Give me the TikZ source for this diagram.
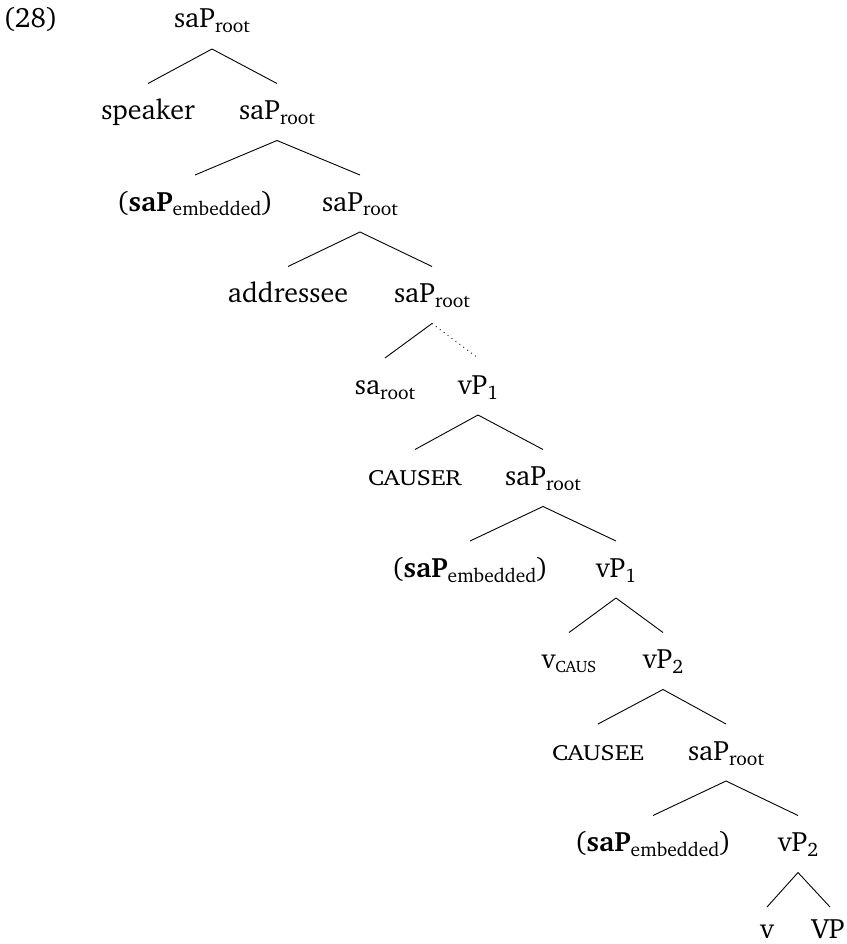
\documentclass[tikz,border=0pt]{standalone}
\usepackage[T1]{fontenc}
\usepackage{charter}
\newcommand\sub[1]{\raisebox{-5pt}{\fontsize{19.5}{22}\selectfont #1}}
\newcommand\rt{\sub{root}}
\newcommand\fsc[1]{\scalebox{1.15}[1]{\fontsize{22}{26}\selectfont #1}}
\newcommand\emb{(\textbf{saP}\sub{embedded})}
\newcommand\br[2]{\draw[branch] ([yshift=-21pt]#1.base) -- ([yshift=36pt]#2.base);}
\begin{document}
\begin{tikzpicture}[x=1pt,y=1pt,
  every node/.style={inner sep=0pt, font=\fontsize{28}{33}\selectfont, anchor=base},
  branch/.style={line width=0.9pt}]
\useasboundingbox (0,0) rectangle (846,-944);
\node (ex) at (30.5,-28) {(28)};
\node (n1) at (212,-28) {saP\rt};
\node (spk) at (148,-119.5) {speaker};
\node (n2) at (277,-119.5) {saP\rt};
\node (e1) at (195,-211) {\emb};
\node (n3) at (360,-211) {saP\rt};
\node (adr) at (288,-302.5) {addressee};
\node (n4) at (432,-302.5) {saP\rt};
\node (sar) at (385,-394) {sa\rt};
\node (v1a) at (478,-394) {vP\sub{1}};
\node (csr) at (415,-485.5) {\fsc{CAUSER}};
\node (n5) at (543,-485.5) {saP\rt};
\node (e2) at (470,-577) {\emb};
\node (v1b) at (616,-577) {vP\sub{1}};
\node (vc) at (569,-668.5) {v\raisebox{-3.5pt}{\fontsize{16.5}{18}\selectfont CAUS}};
\node (v2a) at (663,-668.5) {vP\sub{2}};
\node (cse) at (598,-760) {\fsc{CAUSEE}};
\node (n6) at (726,-760) {saP\rt};
\node (e3) at (653,-851.5) {\emb};
\node (v2b) at (798,-851.5) {vP\sub{2}};
\node (v) at (767,-938) {v};
\node (vp) at (828,-938) {VP};
\br{n1}{spk} \br{n1}{n2}
\br{n2}{e1} \br{n2}{n3}
\br{n3}{adr} \br{n3}{n4}
\br{n4}{sar}
\draw[branch, dash pattern=on 0.9pt off 4pt] ([yshift=-21pt]n4.base) -- ([yshift=36pt]v1a.base);
\br{v1a}{csr} \br{v1a}{n5}
\br{n5}{e2} \br{n5}{v1b}
\br{v1b}{vc} \br{v1b}{v2a}
\br{v2a}{cse} \br{v2a}{n6}
\br{n6}{e3} \br{n6}{v2b}
\draw[branch] ([yshift=-21pt]v2b.base) -- ([yshift=31pt]v.base);
\draw[branch] ([yshift=-21pt]v2b.base) -- ([xshift=2pt,yshift=31pt]vp.base);
\end{tikzpicture}
\end{document}
